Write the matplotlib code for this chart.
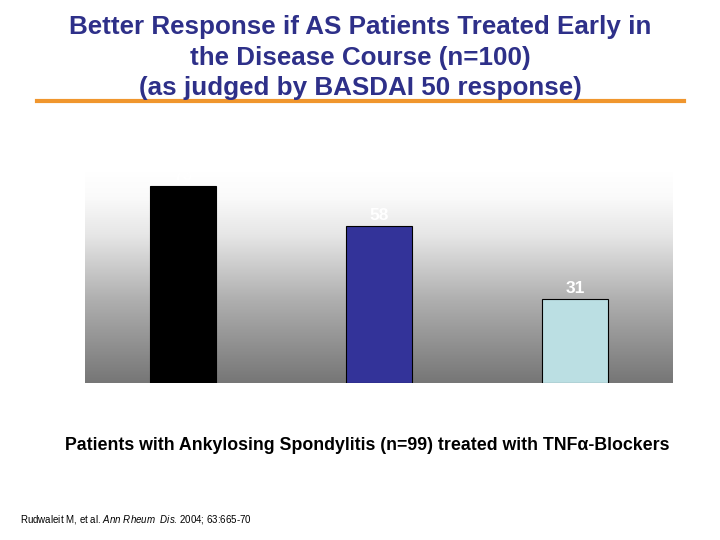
import numpy as np
import matplotlib
matplotlib.use("Agg")
import matplotlib.pyplot as plt
from matplotlib.colors import LinearSegmentedColormap

plt.rcParams['font.family'] = ['Liberation Sans', 'DejaVu Sans']
plt.rcParams['mathtext.fontset'] = 'custom'
plt.rcParams['mathtext.rm'] = 'Liberation Sans'
plt.rcParams['mathtext.it'] = 'Liberation Sans:italic'

categories = ["Group 1", "Group 2", "Group 3"]
values = [73, 58, 31]
bar_colors = ["#000000", "#333399", "#BBDFE3"]
value_labels = ["73", "58", "31"]

fig = plt.figure(figsize=(7.2, 5.4), dpi=100)
W, H = 720, 540
ax = fig.add_axes([85 / W, 1 - 383 / H, (673 - 85) / W, (383 - 172) / H])

ymax = 78
x = np.arange(len(categories))
cmap = LinearSegmentedColormap.from_list(
    "g", [(0.0, "#FFFFFF"), (0.12, "#FAFAFA"), (0.3, "#E6E6E6"),
          (0.6, "#B0B0B0"), (1.0, "#767676")], N=256)
grad = np.linspace(0, 1, 256).reshape(-1, 1)
ax.imshow(grad, extent=[-0.5, 2.5, 0, ymax], aspect='auto', cmap=cmap, origin='upper', zorder=0)

ax.bar(x, values, width=0.335, color=bar_colors, edgecolor="black", linewidth=0.8, zorder=2)
for xi, v, lab in zip(x, values, value_labels):
    ax.text(xi, v + 1.0, lab, ha='center', va='bottom', color='white', fontsize=12.5,
            fontweight='bold', zorder=3)

ax.set_xlim(-0.5, 2.5)
ax.set_ylim(0, ymax)
ax.set_xticks([])
ax.set_yticks([])
for s in ax.spines.values():
    s.set_visible(False)

title_color = "#2E3089"
title_lines = ["Better Response if AS Patients Treated Early in",
               "the Disease Course (n=100)",
               "(as judged by BASDAI 50 response)"]
for i, line in enumerate(title_lines):
    fig.text(360 / W, 1 - (27 + 30.5 * i) / H, line, ha='center', va='center',
             fontsize=18.7, fontweight='bold', color=title_color)

fig.add_artist(plt.Line2D([37 / W, 684 / W], [1 - 101 / H, 1 - 101 / H],
                          color="#F0962E", linewidth=3))

fig.text(367 / W, 1 - 446 / H,
         "Patients with Ankylosing Spondylitis (n=99) treated with TNF\u03b1-Blockers",
         ha='center', va='center', fontsize=12.8, fontweight='bold', color='black')

# citation
citation = r"Rudwaleit M, et al. $\mathit{Ann\ Rheum\ \ Dis}$. 2004; 63:665-70"
fig.text(20 / W, 1 - 519 / H, citation, fontsize=7, va='center', ha='left')

fig.savefig("out.png", dpi=100)
